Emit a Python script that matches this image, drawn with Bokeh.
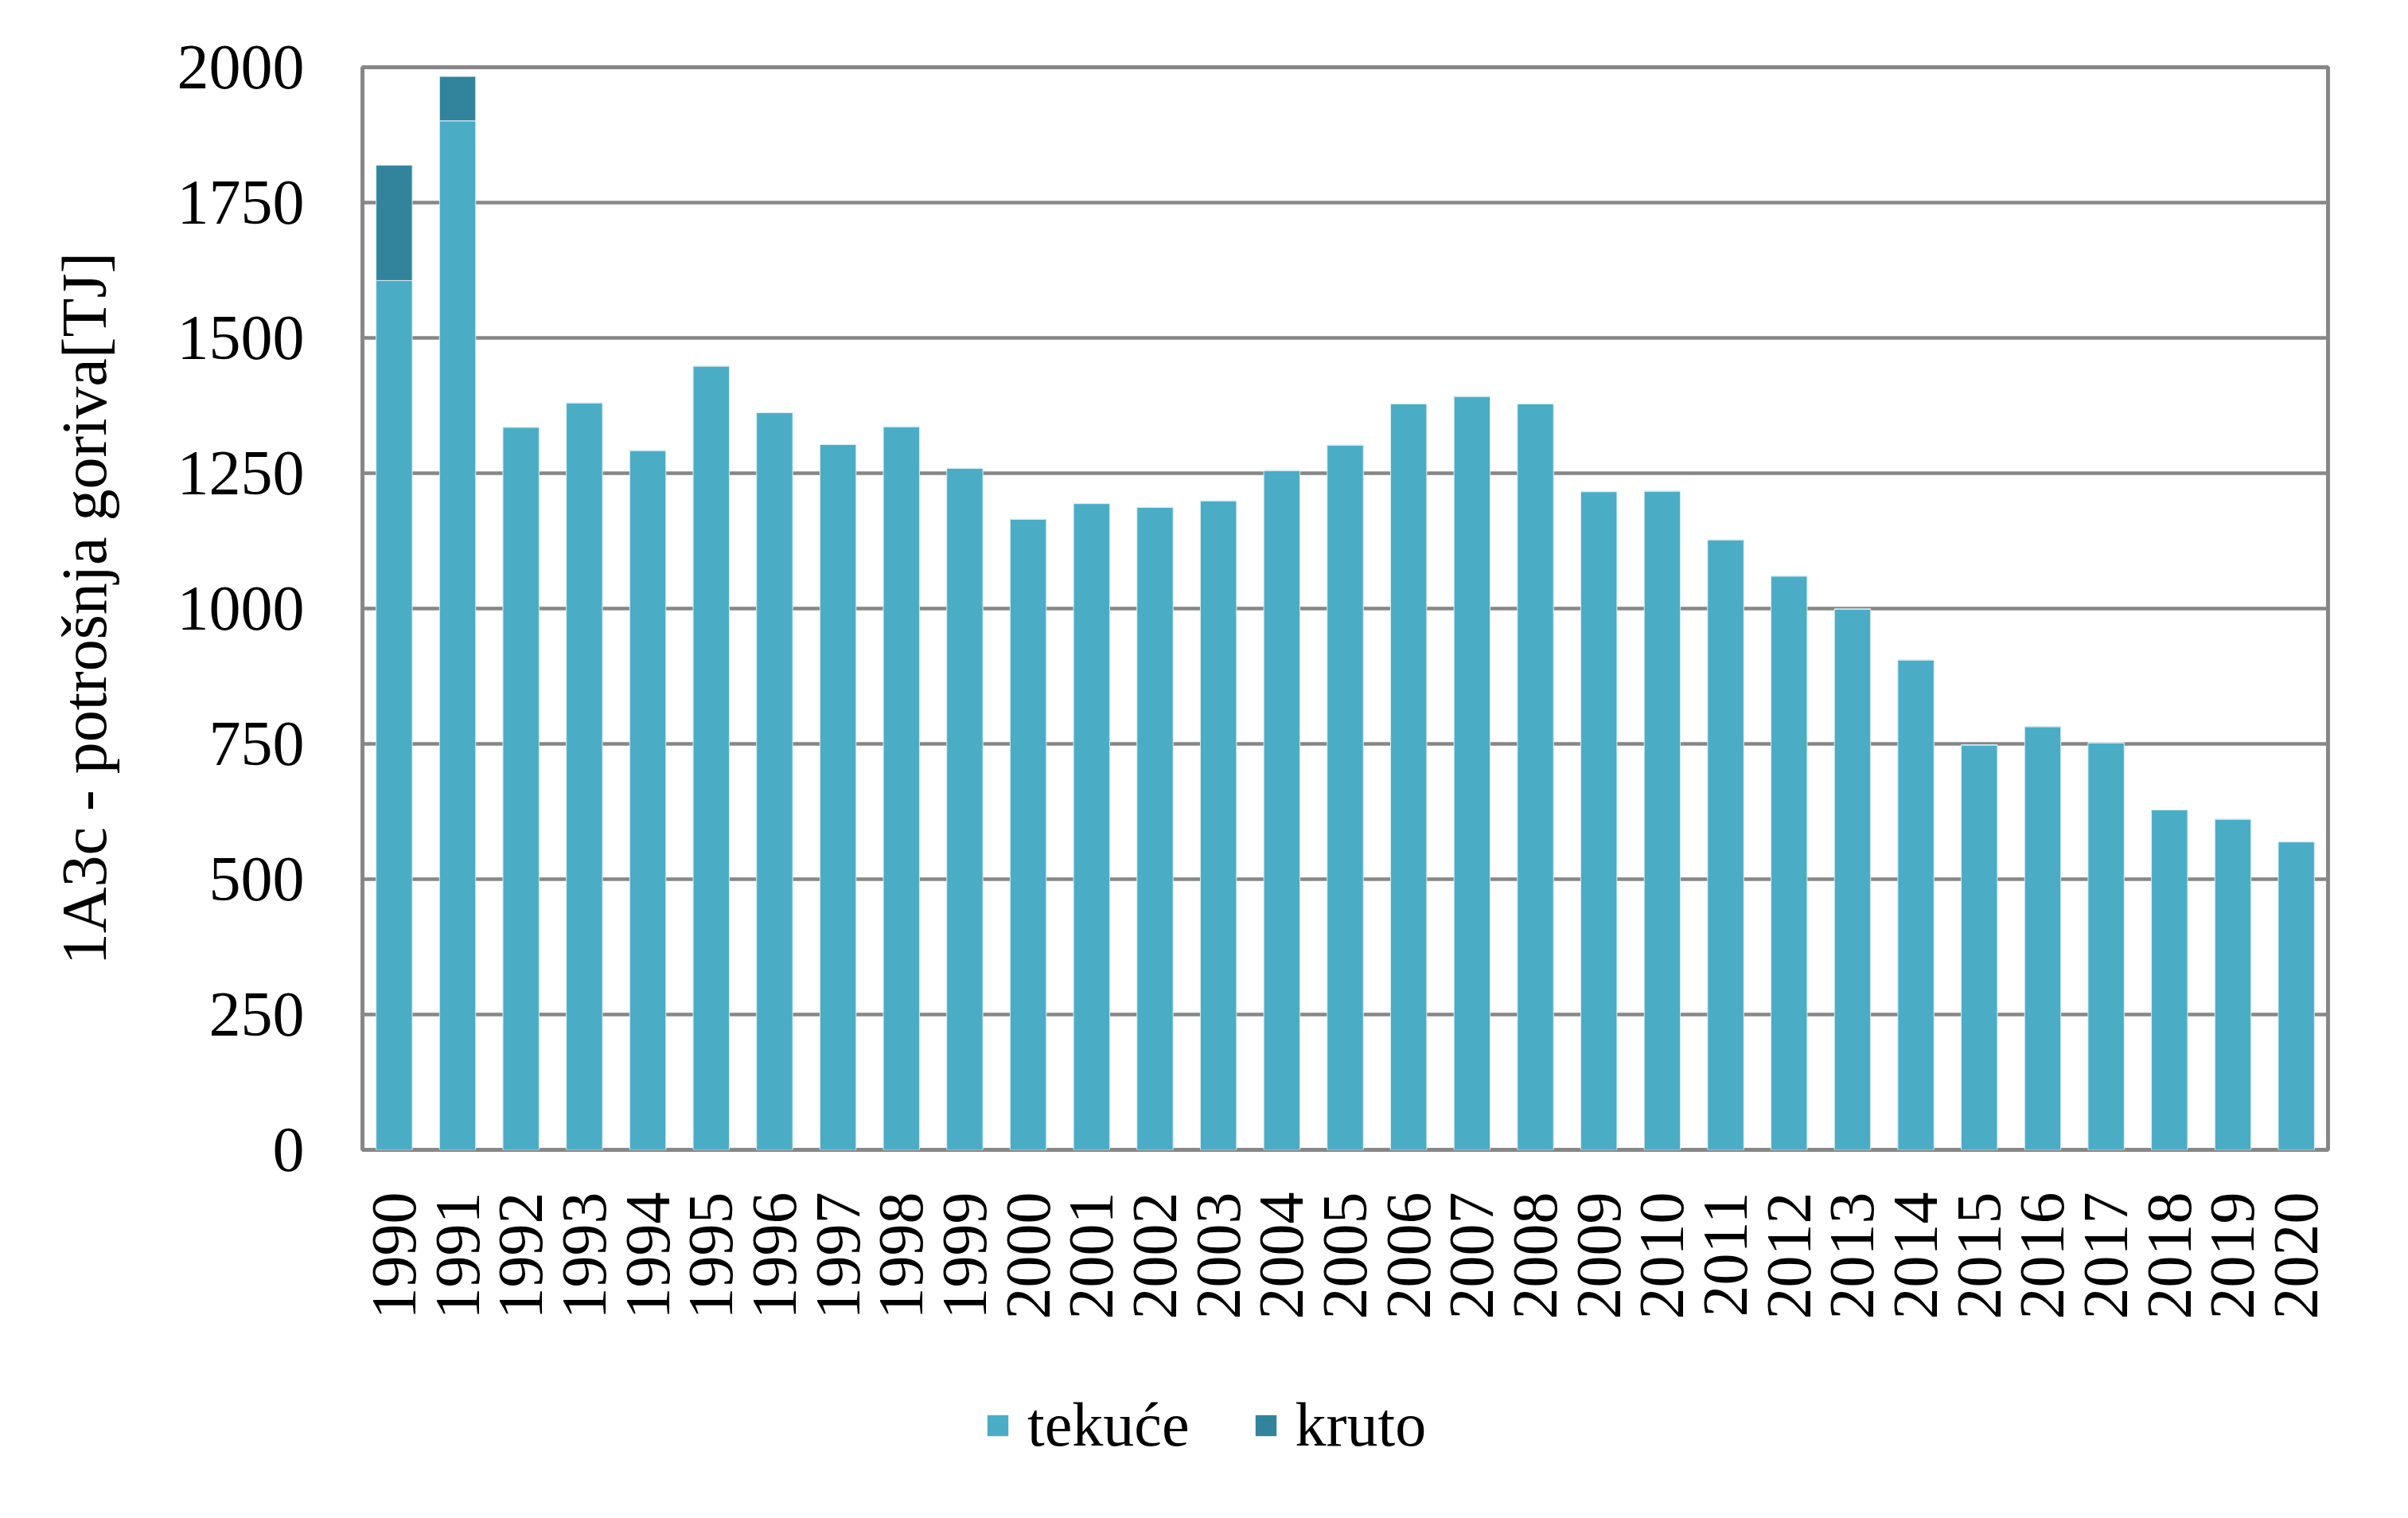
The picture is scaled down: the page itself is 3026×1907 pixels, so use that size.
from bokeh.plotting import figure
from bokeh.models import FactorRange, Range1d, FixedTicker, Legend, LegendItem, ColumnDataSource
from bokeh.layouts import column
from bokeh.embed import file_html
from bokeh.resources import INLINE
import math

years = ["1990", "1991", "1992", "1993", "1994", "1995", "1996", "1997", "1998", "1999",
         "2000", "2001", "2002", "2003", "2004", "2005", "2006", "2007", "2008", "2009",
         "2010", "2011", "2012", "2013", "2014", "2015", "2016", "2017", "2018", "2019", "2020"]
tekuce = [1606, 1901, 1335, 1380, 1292, 1448, 1362, 1303, 1336, 1259,
          1165, 1194, 1187, 1199, 1255, 1302, 1378, 1392, 1378, 1216,
          1217, 1127, 1060, 999, 905, 748, 782, 752, 628, 611, 569]
kruto = [213, 82, 0, 0, 0, 0, 0, 0, 0, 0,
         0, 0, 0, 0, 0, 0, 0, 0, 0, 0,
         0, 0, 0, 0, 0, 0, 0, 0, 0, 0, 0]
y_ticks = [0, 250, 500, 750, 1000, 1250, 1500, 1750, 2000]
series_names = ["tekuće", "kruto"]
y_title = "1A3c - potrošnja goriva[TJ]"

FONT = "Liberation Serif"
C_TEK = "#4BACC6"
C_KRU = "#31849B"
GRID = "#878787"

source = ColumnDataSource(data=dict(year=years, tekuce=tekuce, kruto=kruto))

# main chart
p = figure(x_range=FactorRange(*years), y_range=Range1d(0, 2000),
           frame_width=2470, frame_height=1360,
           min_border_left=455, min_border_right=85, min_border_top=84, min_border_bottom=230,
           output_backend="svg", toolbar_location=None, tools="")
p.background_fill_color = "white"
p.border_fill_color = "white"
p.outline_line_color = GRID
p.outline_line_width = 5

p.vbar_stack(["tekuce", "kruto"], x="year", width=0.57, source=source,
             fill_color=[C_TEK, C_KRU], line_color="#D8EEF4", line_width=1)

p.xgrid.grid_line_color = None
p.ygrid.grid_line_color = GRID
p.ygrid.grid_line_width = 4.5
p.yaxis.ticker = FixedTicker(ticks=y_ticks)

for ax in (p.xaxis[0], p.yaxis[0]):
    ax.axis_line_color = None
    ax.major_tick_line_color = None
    ax.minor_tick_line_color = None
    ax.major_tick_in = 0
    ax.major_tick_out = 0
    ax.minor_tick_out = 0
    ax.major_label_text_font = FONT
    ax.major_label_text_font_size = "80px"
    ax.major_label_text_color = "black"

p.yaxis.major_label_standoff = 73
p.xaxis.major_label_standoff = 53
p.xaxis.major_label_orientation = math.pi / 2

p.yaxis.axis_label = y_title
p.yaxis.axis_label_text_font = FONT
p.yaxis.axis_label_text_font_size = "80px"
p.yaxis.axis_label_text_font_style = "normal"
p.yaxis.axis_label_text_color = "black"
p.yaxis.axis_label_standoff = 70

# legend strip below the chart (same series, hidden renderers, only the legend shows)
q = figure(x_range=FactorRange(*years), y_range=Range1d(-100000, -99000),
           frame_width=3010, frame_height=217,
           min_border_left=0, min_border_right=0, min_border_top=0, min_border_bottom=0,
           output_backend="svg", toolbar_location=None, tools="")
q.background_fill_color = "white"
q.border_fill_color = "white"
q.outline_line_color = None
q.axis.visible = False
q.grid.visible = False

rq = q.vbar_stack(["tekuce", "kruto"], x="year", width=0.57, source=source,
                  fill_color=[C_TEK, C_KRU], line_color=None)
for r in rq:
    r.visible = False

legend = Legend(items=[LegendItem(label=series_names[0], renderers=[rq[0]]),
                       LegendItem(label=series_names[1], renderers=[rq[1]])],
                location=(1237, 56), orientation="horizontal",
                glyph_width=33, glyph_height=33, label_standoff=21, spacing=79,
                padding=0, margin=0, border_line_color=None, background_fill_alpha=0,
                inactive_fill_alpha=0,
                label_text_font=FONT, label_text_font_size="78px", label_text_color="black")
q.add_layout(legend)

open("out.html", "w").write(file_html(column(p, q, spacing=0), INLINE))
